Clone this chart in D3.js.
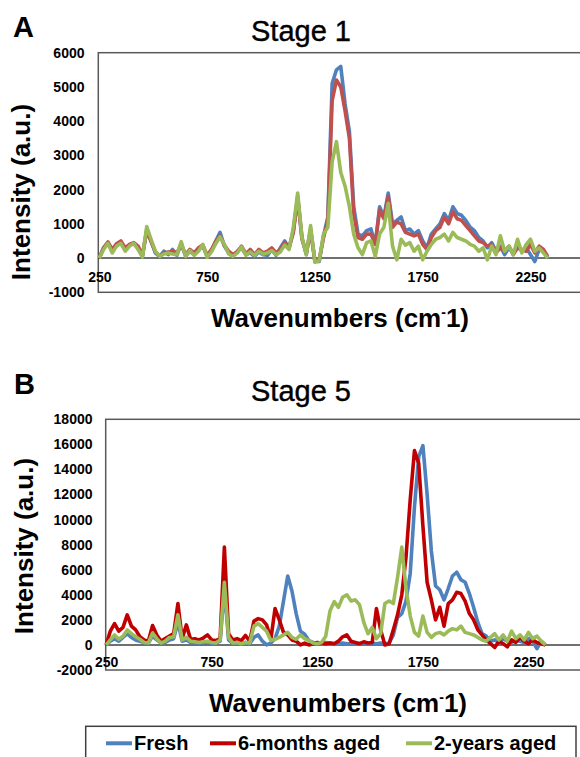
<!DOCTYPE html>
<html>
<head>
<meta charset="utf-8">
<script src="https://cdn.jsdelivr.net/npm/d3@7"></script>
<style>
body { margin: 0; background: #fff; }
svg { display: block; font-family: "Liberation Sans", Arial, sans-serif; }
</style>
</head>
<body>
<svg id="fig" width="580" height="757"></svg>
<script>
// sampling of the spectra (cm-1)
var wavenumbers = [
  250,270,290,310,330,350,370,390,410,430,
  450,470,490,510,530,550,570,590,610,630,
  650,670,690,710,730,750,770,790,810,830,
  850,870,890,910,930,950,970,990,1010,1030,
  1050,1070,1090,1110,1130,1150,1170,1190,1210,1230,
  1250,1270,1290,1310,1330,1350,1370,1390,1410,1430,
  1450,1470,1490,1510,1530,1550,1570,1590,1610,1630,
  1650,1670,1690,1710,1730,1750,1770,1790,1810,1830,
  1850,1870,1890,1910,1930,1950,1970,1990,2010,2030,
  2050,2070,2090,2110,2130,2150,2170,2190,2210,2230,
  2250,2270,2290,2310,2330]

// Stage 1
var stage1Fresh = [
  0,300,450,200,380,450,250,380,420,300,
  50,800,500,150,40,200,100,250,80,420,
  60,200,100,250,350,50,200,500,750,350,
  150,80,200,300,100,150,50,180,100,80,
  250,80,300,500,280,800,1800,600,100,850,
  -100,-100,650,1200,5100,5500,5600,4500,3700,1500,
  700,650,800,850,400,1500,1200,1900,1000,1100,
  1200,800,850,700,800,500,300,700,850,1000,
  1300,1100,1500,1300,1250,1100,900,800,600,500,
  300,450,200,350,100,300,150,350,200,300,
  100,-100,250,200,0]
var stage1SixMonths = [
  0,300,470,250,420,500,300,400,450,350,
  80,820,480,180,60,150,180,200,150,400,
  100,250,150,300,380,80,250,480,650,380,
  200,100,180,350,120,250,100,250,150,200,
  300,150,250,450,300,750,1750,550,150,800,
  -80,-50,600,1100,4600,5200,5000,4300,3500,1300,
  600,550,700,700,400,1400,1150,1800,900,1050,
  1000,750,700,650,700,400,250,600,800,900,
  1200,1000,1350,1150,1100,950,800,650,500,450,
  350,400,150,300,200,350,100,300,250,200,
  400,150,350,250,50]
var stage1TwoYears = [
  0,250,430,150,350,430,200,350,430,250,
  30,920,550,200,50,120,150,120,100,480,
  50,220,80,200,400,20,180,420,620,400,
  120,50,150,330,80,180,80,200,120,150,
  220,100,180,380,250,900,1900,600,100,950,
  -120,-80,700,900,2800,3400,2500,2100,1500,700,
  300,100,450,500,50,700,900,1600,350,-50,
  550,380,450,200,350,-50,200,400,550,600,
  700,500,750,600,550,500,400,350,200,300,
  -50,350,100,650,200,350,100,550,150,400,
  550,200,300,150,0]

// Stage 5
var stage5Fresh = [
  0,300,500,300,600,900,600,400,300,200,
  150,700,400,150,200,400,500,1800,300,400,
  200,150,200,150,250,100,150,300,4500,400,
  100,150,100,200,100,600,800,300,0,150,
  500,1500,3500,5500,4300,2500,1100,850,350,200,
  150,100,200,150,100,100,150,100,100,150,
  100,150,100,150,100,150,100,150,800,2200,
  2500,3500,5700,11000,15000,15900,12000,7500,4700,4400,
  3600,4500,5500,5800,5200,5000,4100,3000,1800,900,
  700,300,400,200,500,300,200,400,300,200,
  500,300,-300,300,0]
var stage5SixMonths = [
  0,1100,1700,1100,1400,2400,1500,1200,650,400,
  300,1550,800,300,500,700,900,3300,500,1600,
  450,500,400,550,800,400,350,500,7800,900,
  400,500,350,750,300,1900,2100,2000,1600,450,
  2900,2000,1000,800,400,300,0,150,0,100,
  200,150,100,150,100,300,650,800,300,200,
  100,250,150,200,2900,1200,0,100,1200,2400,
  4000,7000,11600,15500,14500,9500,5000,3600,2000,3000,
  1500,3300,3600,4200,4100,3500,2500,2000,1200,800,
  400,100,-200,300,100,-150,400,200,600,300,
  100,400,200,100,0]
var stage5TwoYears = [
  0,400,800,450,700,1200,900,650,450,200,
  150,950,500,150,300,600,650,2400,400,600,
  300,250,200,250,300,200,150,400,5000,600,
  150,200,100,200,150,1500,1700,1400,1100,350,
  450,600,800,1000,600,450,800,500,350,150,
  100,200,700,2700,3450,3000,3800,4000,3500,3600,
  3200,1800,900,1400,500,900,3300,3500,3300,5400,
  7800,4500,2300,1000,700,2300,1000,600,900,1000,
  800,1100,1300,1200,1500,1000,900,800,600,400,
  300,600,900,400,800,300,1100,500,800,400,
  1000,500,700,300,0]

var xTicks = [250, 750, 1250, 1750, 2250]
var stage1YTicks = [-1000, 0, 1000, 2000, 3000, 4000, 5000, 6000]
var stage5YTicks = [-2000, 0, 2000, 4000, 6000, 8000, 10000, 12000, 14000, 16000, 18000]
var seriesNames = ["Fresh", "6-months aged", "2-years aged"]

var BLUE = "#4f81bd", GREEN = "#9bbb59"
var FONT = '"Liberation Sans", Arial, sans-serif'

var svg = d3.select("#fig")

function drawPanel(p) {
  var x = d3.scaleLinear().domain([250, 2500]).range([p.x250, p.x250 + 2250 * p.pxPerUnit])
  var y = d3.scaleLinear().domain(p.yDomain).range([p.bottom, p.top])
  var g = svg.append("g")

  // letter and title
  g.append("text")
    .attr("x", p.letterX).attr("y", p.letterY)
    .attr("font-size", 29).attr("font-weight", "bold")
    .text(p.letter)
  g.append("text")
    .attr("x", p.titleX).attr("y", p.titleY)
    .attr("font-size", 29)
    .attr("stroke", "#000").attr("stroke-width", 0.4)
    .text(p.title)

  // plot frame (runs past the right edge, as in the figure)
  g.append("rect")
    .attr("x", p.left).attr("y", p.top)
    .attr("width", 600 - p.left).attr("height", p.bottom - p.top)
    .attr("fill", "none").attr("stroke", "#595959").attr("stroke-width", 1.5)

  // zero line
  g.append("line")
    .attr("x1", p.left).attr("x2", 600)
    .attr("y1", y(0)).attr("y2", y(0))
    .attr("stroke", "#404040").attr("stroke-width", 1.5)

  // spectra
  var line = d3.line()
    .x(function(d, i) { return x(wavenumbers[i]) })
    .y(function(d) { return y(d) })
  p.series.forEach(function(s) {
    g.append("path")
      .datum(s.values)
      .attr("d", line)
      .attr("fill", "none")
      .attr("stroke", s.color)
      .attr("stroke-width", 3.6)
      .attr("stroke-linejoin", "round")
  })

  // axes
  g.append("g")
    .attr("transform", "translate(" + p.left + ",0)")
    .call(d3.axisLeft(y).tickValues(p.yTicks).tickSize(0).tickPadding(p.yPad)
      .tickFormat(function(d) { return String(d) }))
  g.append("g")
    .attr("transform", "translate(0," + y(0) + ")")
    .call(d3.axisBottom(x).tickValues(xTicks).tickSize(0).tickPadding(p.xPad)
      .tickFormat(function(d) { return String(d) }))
  g.selectAll(".domain").remove()
  g.selectAll(".tick text")
    .attr("font-family", FONT).attr("font-size", 14)
    .attr("font-weight", "bold").attr("fill", "#000")

  // axis titles
  g.append("text")
    .attr("transform", "translate(" + p.yLabelX + "," + p.yLabelY + ") rotate(-90)")
    .attr("text-anchor", "middle")
    .attr("font-size", 26).attr("font-weight", "bold")
    .text("Intensity (a.u.)")
  var xl = g.append("text")
    .attr("x", p.xLabelX).attr("y", p.xLabelY)
    .attr("font-size", 26).attr("font-weight", "bold")
  xl.append("tspan").text("Wavenumbers (cm")
  xl.append("tspan").attr("font-size", 14).attr("dy", -10).text("-")
  xl.append("tspan").attr("dy", 10).text("1)")
}

drawPanel({
  letter: "A", letterX: 13, letterY: 37,
  title: "Stage 1", titleX: 251, titleY: 41,
  left: 98.3, top: 52.7, bottom: 292.3,
  x250: 99.3, pxPerUnit: 0.2156,
  yDomain: [-1000, 6000], yTicks: stage1YTicks,
  yPad: 13.8, xPad: 13.7,
  yLabelX: 30, yLabelY: 192,
  xLabelX: 211, xLabelY: 327,
  series: [
    { values: stage1Fresh, color: BLUE },
    { values: stage1SixMonths, color: "#c0504d" },
    { values: stage1TwoYears, color: GREEN }
  ]
})

drawPanel({
  letter: "B", letterX: 14, letterY: 394,
  title: "Stage 5", titleX: 251, titleY: 401,
  left: 105.7, top: 419.3, bottom: 670,
  x250: 106.1, pxPerUnit: 0.2112,
  yDomain: [-2000, 18000], yTicks: stage5YTicks,
  yPad: 13.2, xPad: 12.5,
  yLabelX: 33, yLabelY: 546,
  xLabelX: 209, xLabelY: 711.5,
  series: [
    { values: stage5Fresh, color: BLUE },
    { values: stage5SixMonths, color: "#c00000" },
    { values: stage5TwoYears, color: GREEN }
  ]
})

// legend
var legendColors = [BLUE, "#c00000", GREEN]
var legendX = [106, 210, 406]
var legend = svg.append("g")
legend.append("rect")
  .attr("x", 85.7).attr("y", 726.3).attr("width", 490.3).attr("height", 40)
  .attr("fill", "none").attr("stroke", "#404040").attr("stroke-width", 1.5)
seriesNames.forEach(function(name, i) {
  legend.append("line")
    .attr("x1", legendX[i]).attr("x2", legendX[i] + 26)
    .attr("y1", 743.3).attr("y2", 743.3)
    .attr("stroke", legendColors[i]).attr("stroke-width", 4)
  legend.append("text")
    .attr("x", legendX[i] + 28).attr("y", 749.5)
    .attr("font-size", 20).attr("font-weight", "bold")
    .text(name)
})
</script>
</body>
</html>
